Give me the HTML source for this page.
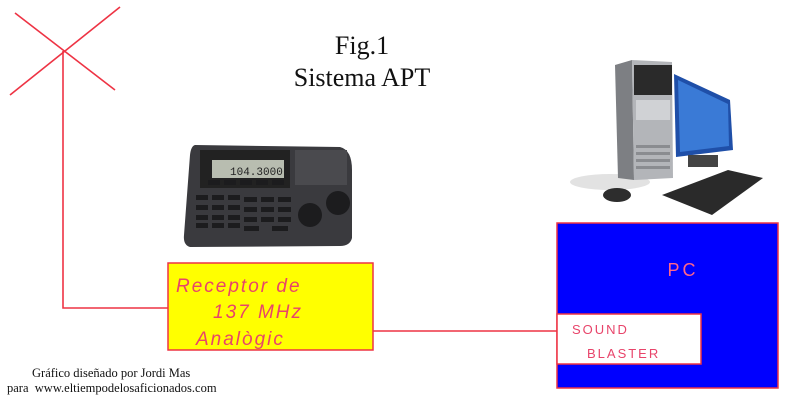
<!DOCTYPE html>
<html><head><meta charset="utf-8"><style>
body{margin:0;background:#fff;}
svg{display:block}
</style></head><body>
<svg width="792" height="403" viewBox="0 0 792 403" xmlns="http://www.w3.org/2000/svg">
<rect width="792" height="403" fill="#fff"/>
<g stroke="#ee3344" stroke-width="1.6" fill="none">
<line x1="15" y1="13" x2="115" y2="90"/>
<line x1="120" y1="7" x2="10" y2="95"/>
<polyline points="63,51 63,308 168,308"/>
<line x1="373" y1="331" x2="557" y2="331"/>
</g>
<text x="362" y="54" font-family="Liberation Serif,serif" font-size="26" text-anchor="middle" fill="#111">Fig.1</text>
<text x="362" y="86" font-family="Liberation Serif,serif" font-size="26" text-anchor="middle" fill="#111">Sistema APT</text>
<g>
<path d="M195,145 L340,147 Q352,150 352,170 L352,238 Q350,246 340,246 L190,247 Q183,245 184,235 L190,155 Q191,146 195,145Z" fill="#3a3a3e"/>
<rect x="200" y="150" width="90" height="38" fill="#222"/>
<rect x="212" y="160" width="72" height="18" fill="#b8bdb0"/>
<text x="230" y="175" font-family="Liberation Mono,monospace" font-size="11" fill="#222">104.3000</text>
<rect x="295" y="150" width="52" height="35" fill="#4a4a4e"/>
<g fill="#1c1c1e">
<rect x="208" y="180" width="12" height="5"/><rect x="224" y="180" width="12" height="5"/><rect x="240" y="180" width="12" height="5"/><rect x="256" y="180" width="12" height="5"/><rect x="272" y="180" width="12" height="5"/>
<rect x="196" y="195" width="12" height="5"/><rect x="212" y="195" width="12" height="5"/><rect x="228" y="195" width="12" height="5"/><rect x="244" y="197" width="13" height="5"/><rect x="261" y="197" width="13" height="5"/><rect x="278" y="197" width="13" height="5"/>
<rect x="196" y="205" width="12" height="5"/><rect x="212" y="205" width="12" height="5"/><rect x="228" y="205" width="12" height="5"/><rect x="244" y="207" width="13" height="5"/><rect x="261" y="207" width="13" height="5"/><rect x="278" y="207" width="13" height="5"/>
<rect x="196" y="215" width="12" height="5"/><rect x="212" y="215" width="12" height="5"/><rect x="228" y="215" width="12" height="5"/><rect x="244" y="217" width="13" height="5"/><rect x="261" y="217" width="13" height="5"/><rect x="278" y="217" width="13" height="5"/>
<rect x="196" y="223" width="12" height="5"/><rect x="212" y="223" width="12" height="5"/><rect x="228" y="223" width="12" height="5"/><rect x="244" y="226" width="15" height="5"/><rect x="272" y="226" width="16" height="5"/>
<circle cx="310" cy="215" r="12"/><circle cx="338" cy="203" r="12"/>
</g>
</g>
<g>
<ellipse cx="610" cy="182" rx="40" ry="8" fill="#e2e2e2"/>
<path d="M615,65 L632,60 L634,180 L618,178 Z" fill="#7d7f83"/>
<path d="M632,60 L672,62 L673,178 L634,180 Z" fill="#b3b5b9"/>
<rect x="634" y="65" width="38" height="30" fill="#2a2a2a"/>
<rect x="636" y="100" width="34" height="20" fill="#d0d2d5"/>
<g fill="#8a8c90"><rect x="636" y="145" width="34" height="3"/><rect x="636" y="152" width="34" height="3"/><rect x="636" y="159" width="34" height="3"/><rect x="636" y="166" width="34" height="3"/></g>
<path d="M674,74 L730,100 L733,150 L676,157 Z" fill="#1f4fa8"/>
<path d="M678,80 L728,104 L729,146 L680,152 Z" fill="#3a7ad6"/>
<rect x="688" y="155" width="30" height="12" fill="#444"/>
<path d="M662,195 L728,170 L763,178 L712,215 Z" fill="#2a2a2a"/>
<ellipse cx="617" cy="195" rx="14" ry="7" fill="#2d2d2d"/>
</g>
<rect x="168" y="263" width="205" height="87" fill="#ffff00" stroke="#ee3344" stroke-width="1.5"/>
<g font-family="Liberation Sans,sans-serif" font-style="italic" fill="#e8446a" font-size="19" letter-spacing="2">
<text x="176" y="292">Receptor de</text>
<text x="213" y="318">137 MHz</text>
<text x="196" y="345">Analògic</text>
</g>
<rect x="557" y="223" width="221" height="165" fill="#0000ff" stroke="#ee3344" stroke-width="1.5"/>
<text x="683" y="276" font-family="Liberation Sans,sans-serif" font-size="18" fill="#ff6688" text-anchor="middle" letter-spacing="3">PC</text>
<rect x="557" y="314" width="144" height="50" fill="#fff" stroke="#ee3344" stroke-width="1.5"/>
<g font-family="Liberation Sans,sans-serif" font-size="13" fill="#e8446a" letter-spacing="2">
<text x="572" y="334">SOUND</text>
<text x="587" y="358">BLASTER</text>
</g>
<g font-family="Liberation Serif,serif" font-size="12.5" fill="#111">
<text x="32" y="377">Gráfico diseñado por Jordi Mas</text>
<text x="7" y="392">para&#160;&#160;www.eltiempodelosaficionados.com</text>
</g>
</svg>
</body></html>
